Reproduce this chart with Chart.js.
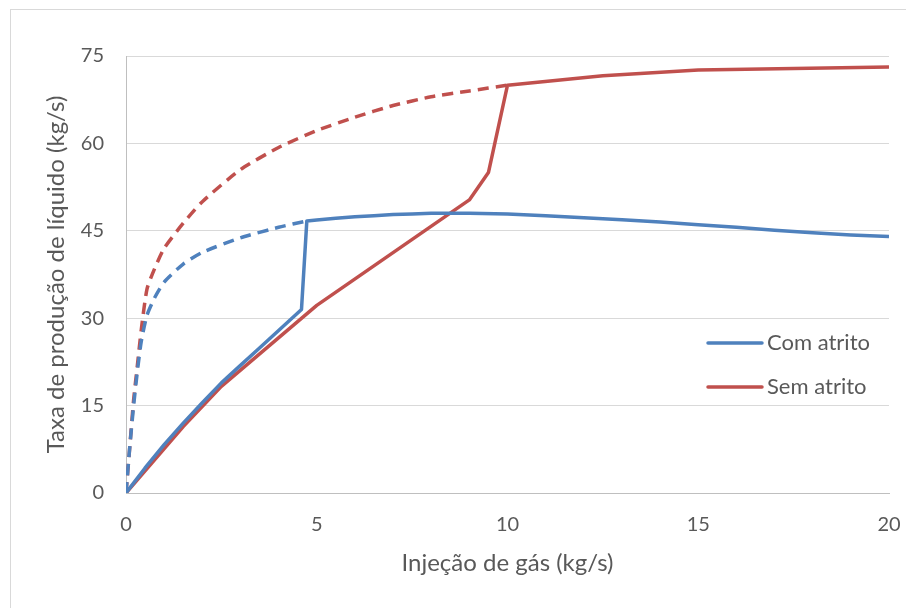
<!DOCTYPE html>
<html>
<head>
<meta charset="utf-8">
<script src="https://cdn.jsdelivr.net/npm/chart.js@4.4.1/dist/chart.umd.min.js"></script>
<style>
  html, body { margin: 0; padding: 0; background: #ffffff; }
  #wrap { width: 906px; height: 608px; position: relative; }
</style>
</head>
<body>
<div id="wrap"><canvas id="chart" width="906" height="608"></canvas></div>
<script>
// Gas injection (kg/s) vs liquid production (kg/s)
const comAtritoX      = [0, 0.5, 1, 1.5, 2, 2.5, 3, 3.5, 4, 4.6, 4.74, 5, 5.5, 6, 6.5, 7, 7.5, 8, 9, 10, 11, 12, 13, 14, 15, 16, 17, 18, 19, 20];
const comAtritoY      = [0, 4.3, 8.3, 12.0, 15.5, 18.9, 21.9, 24.9, 27.9, 31.5, 46.7, 46.85, 47.15, 47.4, 47.6, 47.8, 47.9, 48.0, 48.0, 47.9, 47.6, 47.25, 46.9, 46.5, 46.05, 45.6, 45.1, 44.65, 44.3, 44.0];
const comAtritoTraceX = [0, 0.1, 0.2, 0.3, 0.4, 0.55, 0.75, 1, 1.5, 2, 3, 4, 4.74];
const comAtritoTraceY = [0, 8, 15, 21, 26, 30.5, 33.5, 36.2, 39.3, 41.3, 43.8, 45.6, 46.7];
const semAtritoX      = [0, 1.5, 2.5, 5, 9, 9.5, 10, 12.5, 15, 20];
const semAtritoY      = [0, 11.4, 18.3, 32.2, 50.3, 55, 70, 71.6, 72.6, 73.1];
const semAtritoTraceX = [0, 0.1, 0.2, 0.3, 0.4, 0.55, 0.75, 1, 1.5, 2, 3, 4, 5, 6, 7, 8, 9, 10];
const semAtritoTraceY = [0, 8, 16, 22, 28, 35, 38.5, 42, 46.3, 50, 55.5, 59.3, 62.2, 64.5, 66.5, 68, 69, 70];
const xTicks = [0, 5, 10, 15, 20];
const yTicks = [0, 15, 30, 45, 60, 75];
const legendLabels = ['Com atrito', 'Sem atrito'];

const BLUE = '#4F81BD';
const RED = '#C0504D';
const TEXT = '#595959';
const FONT = 'Lato, "Open Sans", sans-serif';

const pts = (xs, ys) => xs.map((x, i) => ({ x: x, y: ys[i] }));

// Frame around the whole chart
const framePlugin = {
  id: 'frame',
  beforeDraw(chart) {
    const c = chart.ctx;
    c.save();
    c.fillStyle = '#ffffff';
    c.fillRect(0, 0, chart.width, chart.height);
    c.strokeStyle = '#d9d9d9';
    c.lineWidth = 1;
    c.strokeRect(10.5, 9.5, chart.width + 20, chart.height + 20);
    c.restore();
  }
};

// Legend drawn inside the plot area, lower right
const innerLegend = {
  id: 'innerLegend',
  afterDatasetsDraw(chart) {
    const c = chart.ctx;
    const a = chart.chartArea;
    const colors = [BLUE, RED];
    const x0 = a.right - 181;
    const x1 = x0 + 54;
    const yBase = a.top + 287;
    c.save();
    c.font = '22px ' + FONT;
    c.textBaseline = 'middle';
    c.textAlign = 'left';
    legendLabels.forEach((lab, i) => {
      const y = yBase + i * 44;
      c.strokeStyle = colors[i];
      c.lineWidth = 3.5;
      c.lineCap = 'round';
      c.beginPath();
      c.moveTo(x0, y);
      c.lineTo(x1, y);
      c.stroke();
      c.fillStyle = TEXT;
      c.fillText(lab, x1 + 5, y);
    });
    c.restore();
  }
};

new Chart(document.getElementById('chart'), {
  type: 'line',
  data: {
    datasets: [
      { label: 'Com atrito', data: pts(comAtritoX, comAtritoY), borderColor: BLUE, borderWidth: 3.5, tension: 0 },
      { label: 'Com atrito (instável)', data: pts(comAtritoTraceX, comAtritoTraceY), borderColor: BLUE, borderWidth: 3.5, borderDash: [11, 7], tension: 0.2 },
      { label: 'Sem atrito', data: pts(semAtritoX, semAtritoY), borderColor: RED, borderWidth: 3.5, tension: 0 },
      { label: 'Sem atrito (instável)', data: pts(semAtritoTraceX, semAtritoTraceY), borderColor: RED, borderWidth: 3.5, borderDash: [11, 7], tension: 0.2 }
    ]
  },
  options: {
    responsive: false,
    animation: false,
    elements: { point: { radius: 0 }, line: { borderCapStyle: 'butt', borderJoinStyle: 'round', fill: false } },
    layout: { padding: { left: 0, top: 56, right: 17, bottom: 0 } },
    plugins: { legend: { display: false }, tooltip: { enabled: false } },
    scales: {
      x: {
        type: 'linear',
        min: 0, max: 20,
        afterBuildTicks(s) { s.ticks = xTicks.map(v => ({ value: v })); },
        afterFit(s) { s.height = 115; s.paddingLeft = 0; s.paddingRight = 0; },
        grid: { display: false, drawTicks: false },
        border: { display: true, color: '#bfbfbf', width: 1 },
        ticks: { color: TEXT, font: { family: FONT, size: 20 }, padding: 20, maxRotation: 0 },
        title: { display: true, text: 'Injeção de gás (kg/s)', color: TEXT, font: { family: FONT, size: 24 }, padding: { top: 0, bottom: 30 } }
      },
      y: {
        type: 'linear',
        min: 0, max: 75,
        afterBuildTicks(s) { s.ticks = yTicks.map(v => ({ value: v })); },
        afterFit(s) { s.width = 126; s.paddingTop = 0; s.paddingBottom = 0; },
        grid: { color: '#d9d9d9', lineWidth: 1, drawTicks: false },
        border: { display: true, color: '#bfbfbf', width: 1 },
        ticks: { color: TEXT, font: { family: FONT, size: 20 }, padding: 22 },
        title: { display: true, text: 'Taxa de produção de líquido (kg/s)', color: TEXT, font: { family: FONT, size: 24 }, padding: { top: 42, bottom: 0 } }
      }
    }
  },
  plugins: [framePlugin, innerLegend]
});
</script>
</body>
</html>
